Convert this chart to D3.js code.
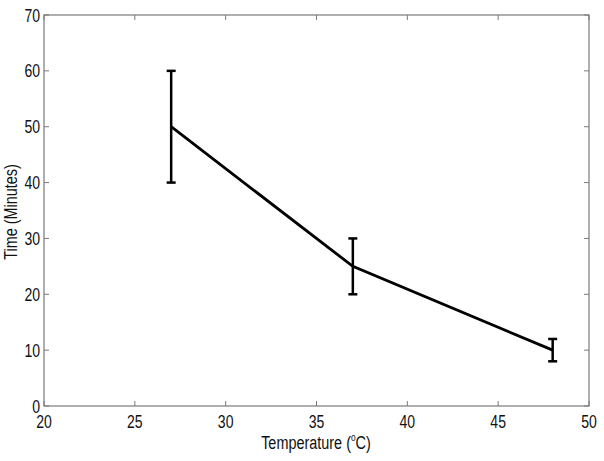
<!DOCTYPE html>
<html><head><meta charset="utf-8">
<script src="https://cdn.jsdelivr.net/npm/d3@7"></script>
<style>body{margin:0;background:#fff}svg{display:block}text{font-family:"Liberation Sans",Arial,sans-serif}</style>
</head><body>
<svg id="c" width="604" height="461"></svg>
<script>
const temps = [27, 37, 48];
const times = [50, 25, 10];
const errLow = [40, 20, 8];
const errHigh = [60, 30, 12];
const xTicks = [20, 25, 30, 35, 40, 45, 50];
const yTicks = [0, 10, 20, 30, 40, 50, 60, 70];

const svg = d3.select("#c");
const L = 44, R = 589, T = 15, B = 406;
const x = d3.scaleLinear().domain([20, 50]).range([L, R]);
const y = d3.scaleLinear().domain([0, 70]).range([B, T]);
const axisCol = "#7a7a7a";
const fs = 18, sx = 0.78;

svg.append("rect").attr("x", L).attr("y", T).attr("width", R - L).attr("height", B - T)
  .attr("fill", "none").attr("stroke", axisCol).attr("stroke-width", 1.2);

const tk = 5;
xTicks.forEach(v => {
  svg.append("line").attr("x1", x(v)).attr("x2", x(v)).attr("y1", B).attr("y2", B - tk).attr("stroke", axisCol);
  svg.append("line").attr("x1", x(v)).attr("x2", x(v)).attr("y1", T).attr("y2", T + tk).attr("stroke", axisCol);
  svg.append("text").attr("x", 0).attr("y", 0).attr("text-anchor", "middle")
    .attr("font-size", fs).attr("fill", "#111").attr("transform", `translate(${x(v)},${B + 22}) scale(${sx},1)`).text(v);
});
yTicks.forEach(v => {
  svg.append("line").attr("x1", L).attr("x2", L + tk).attr("y1", y(v)).attr("y2", y(v)).attr("stroke", axisCol);
  svg.append("line").attr("x1", R).attr("x2", R - tk).attr("y1", y(v)).attr("y2", y(v)).attr("stroke", axisCol);
  svg.append("text").attr("x", 0).attr("y", 0).attr("text-anchor", "end")
    .attr("font-size", fs).attr("fill", "#111").attr("transform", `translate(${L - 4},${y(v) + 6.5}) scale(${sx},1)`).text(v);
});

const line = d3.line().x((d, i) => x(temps[i])).y(d => y(d));
svg.append("path").attr("d", line(times)).attr("fill", "none").attr("stroke", "#000").attr("stroke-width", 2.8);

temps.forEach((t, i) => {
  const cx = x(t);
  svg.append("line").attr("x1", cx).attr("x2", cx).attr("y1", y(errLow[i])).attr("y2", y(errHigh[i])).attr("stroke", "#000").attr("stroke-width", 2.5);
  [errLow[i], errHigh[i]].forEach(v => {
    svg.append("line").attr("x1", cx - 4.5).attr("x2", cx + 4.5).attr("y1", y(v)).attr("y2", y(v)).attr("stroke", "#000").attr("stroke-width", 2.5);
  });
});

const xl = svg.append("text").attr("x", 0).attr("y", 0).attr("text-anchor", "middle").attr("font-size", 19).attr("fill", "#111")
  .attr("transform", "translate(316,449) scale(0.76,1)");
xl.append("tspan").text("Temperature (");
xl.append("tspan").attr("font-size", 11).attr("dy", -8).text("o");
xl.append("tspan").attr("dy", 8).text("C)");

svg.append("text").attr("transform", "translate(17,212) rotate(-90) scale(0.76,1)").attr("text-anchor", "middle")
  .attr("font-size", 19).attr("fill", "#111").text("Time (Minutes)");
</script>
</body></html>
